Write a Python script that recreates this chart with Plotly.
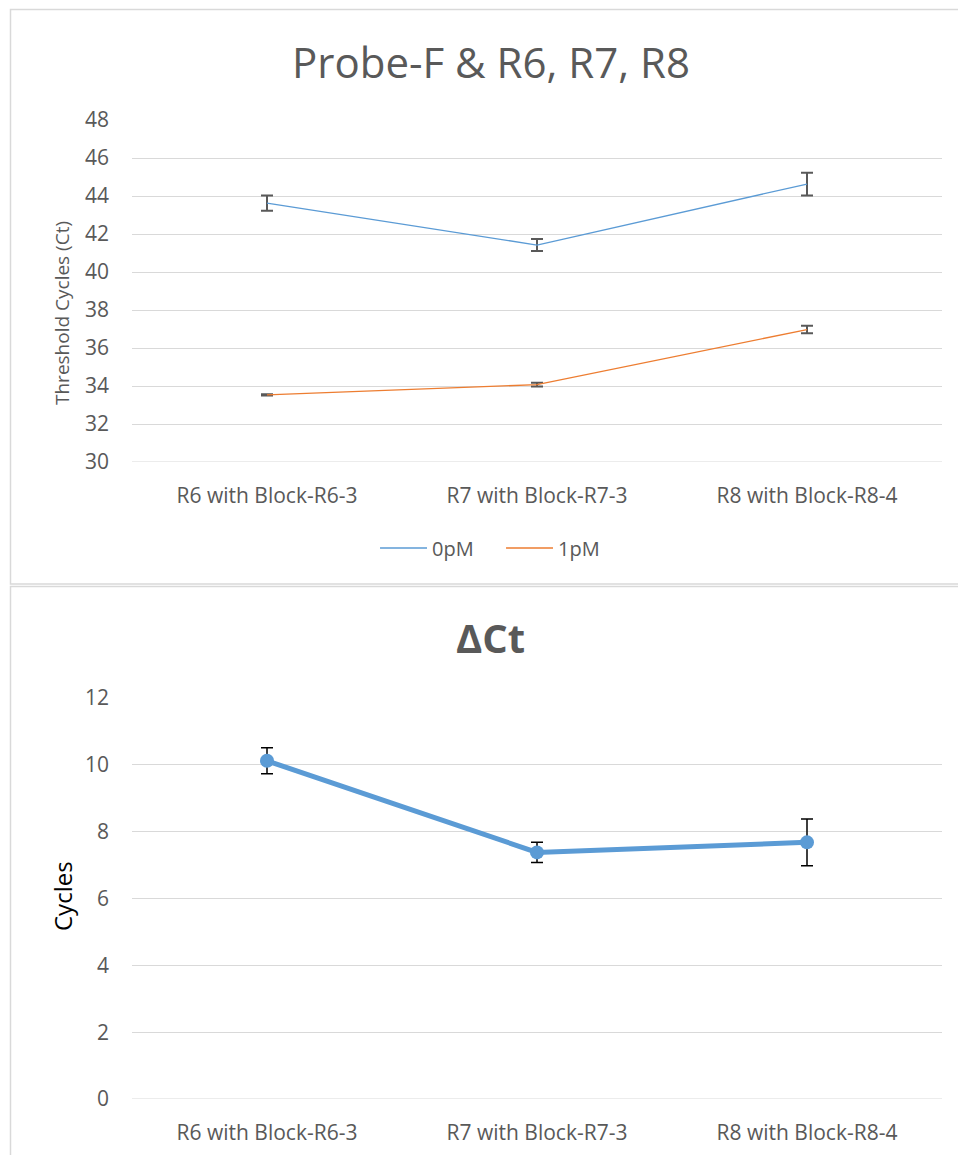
import plotly.graph_objects as go

# Sample categories
categories = ["R6 with Block-R6-3", "R7 with Block-R7-3", "R8 with Block-R8-4"]

# Threshold cycles (Ct) with standard deviations
ct_0pm = [43.62, 41.42, 44.63]
ct_0pm_err = [0.40, 0.32, 0.60]
ct_1pm = [33.53, 34.07, 36.97]
ct_1pm_err = [0.03, 0.10, 0.20]

# Delta Ct (0pM - 1pM) with standard deviations
delta_ct = [10.12, 7.38, 7.68]
delta_ct_err = [0.39, 0.30, 0.70]

top_ticks = [30, 32, 34, 36, 38, 40, 42, 44, 46, 48]
bottom_ticks = [0, 2, 4, 6, 8, 10, 12]

W, H = 958, 1155
BLUE = "#5B9BD5"
ORANGE = "#ED7D31"
GRAY = "#595959"
GRID = "#D9D9D9"
FONT = "Open Sans"


def py(px):
    return 1 - px / H


def px_x(px):
    return px / W


fig = go.Figure()

fig.add_trace(go.Scatter(
    x=categories, y=ct_0pm, mode="lines", name="0pM",
    line=dict(color=BLUE, width=1.3),
    error_y=dict(type="data", array=ct_0pm_err, color=GRAY, thickness=2, width=6),
    xaxis="x", yaxis="y",
))
fig.add_trace(go.Scatter(
    x=categories, y=ct_1pm, mode="lines", name="1pM",
    line=dict(color=ORANGE, width=1.3),
    error_y=dict(type="data", array=ct_1pm_err, color=GRAY, thickness=2, width=6),
    xaxis="x", yaxis="y",
))
fig.add_trace(go.Scatter(
    x=categories, y=delta_ct, mode="lines+markers", name="ΔCt",
    line=dict(color=BLUE, width=5),
    marker=dict(color=BLUE, size=14),
    error_y=dict(type="data", array=delta_ct_err, color="#000000", thickness=1.5, width=6),
    xaxis="x2", yaxis="y2", showlegend=False,
))

axis_common = dict(
    tickfont=dict(family=FONT, size=21, color=GRAY),
    showline=False, zeroline=False, ticks="", automargin=False,
)

fig.update_layout(
    width=W, height=H,
    margin=dict(l=0, r=0, t=0, b=0, autoexpand=False),
    paper_bgcolor="white", plot_bgcolor="white",
    font=dict(family=FONT, color=GRAY),
    xaxis=dict(domain=[px_x(132), px_x(942)], anchor="y", range=[-0.5, 2.5],
               showgrid=False, ticklabelstandoff=19, **axis_common),
    yaxis=dict(domain=[py(462), py(120)], anchor="x", range=[30, 48],
               tickvals=top_ticks, showgrid=True, gridcolor=GRID, gridwidth=1,
               ticklabelstandoff=22, **axis_common),
    xaxis2=dict(domain=[px_x(132), px_x(942)], anchor="y2", range=[-0.5, 2.5],
                showgrid=False, ticklabelstandoff=19, **axis_common),
    yaxis2=dict(domain=[py(1099), py(698)], anchor="x2", range=[0, 12],
                tickvals=bottom_ticks, showgrid=True, gridcolor=GRID, gridwidth=1,
                ticklabelstandoff=22, **axis_common),
    legend=dict(orientation="h", x=0.523, xanchor="center", y=py(548), yanchor="middle",
                font=dict(family=FONT, size=20, color=GRAY), bgcolor="rgba(0,0,0,0)",
                itemwidth=47, entrywidth=64),
    showlegend=True,
    annotations=[
        dict(text="Probe-F & R6, R7, R8", x=0.513, y=py(62), xref="paper", yref="paper",
             showarrow=False, font=dict(family=FONT, size=42, color=GRAY),
             xanchor="center", yanchor="middle"),
        dict(text="<b>ΔCt</b>", x=0.512, y=py(637), xref="paper", yref="paper",
             showarrow=False, font=dict(family=FONT, size=40, color=GRAY),
             xanchor="center", yanchor="middle"),
        dict(text="Threshold Cycles (Ct)", x=px_x(62), y=py(313), xref="paper", yref="paper",
             showarrow=False, textangle=-90, font=dict(family=FONT, size=19, color=GRAY),
             xanchor="center", yanchor="middle"),
        dict(text="Cycles", x=px_x(62), y=py(896), xref="paper", yref="paper",
             showarrow=False, textangle=-90, font=dict(family=FONT, size=24, color="#000000"),
             xanchor="center", yanchor="middle"),
    ],
    shapes=[
        dict(type="rect", xref="paper", yref="paper",
             x0=px_x(10.5), x1=px_x(970), y0=py(584), y1=py(9.5),
             line=dict(color=GRID, width=1.5)),
        dict(type="rect", xref="paper", yref="paper",
             x0=px_x(10.5), x1=px_x(970), y0=py(1170), y1=py(586.5),
             line=dict(color=GRID, width=1.5)),
        # gridlines at the base of each plot
        dict(type="line", xref="x2", yref="y2", x0=-0.5, x1=2.5, y0=0, y1=0,
             line=dict(color=GRID, width=1), layer="below"),
        dict(type="line", xref="x", yref="y", x0=-0.5, x1=2.5, y0=30, y1=30,
             line=dict(color=GRID, width=1), layer="below"),
    ],
)

fig.write_html("out.html")
